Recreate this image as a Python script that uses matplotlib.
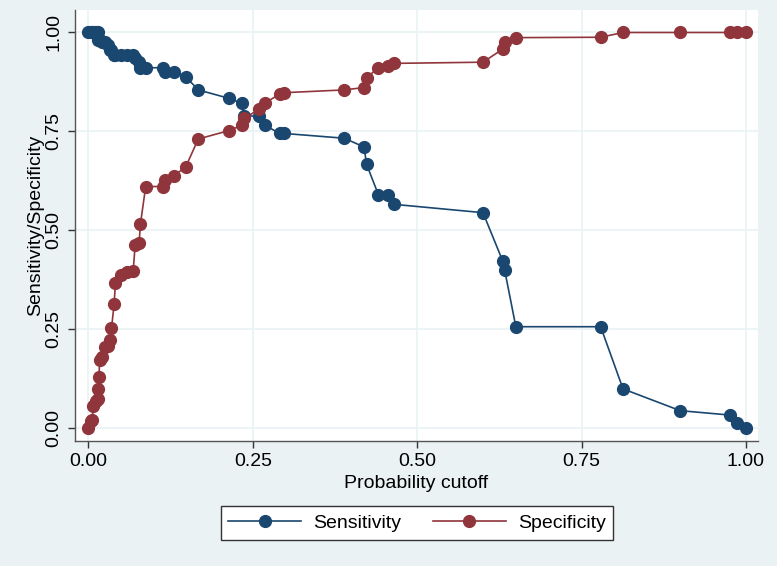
import matplotlib
matplotlib.use("Agg")
import matplotlib.pyplot as plt
from matplotlib.lines import Line2D

plt.rcParams['font.family'] = ['Liberation Sans', 'DejaVu Sans']

cutoff = [0.000, 0.004, 0.006, 0.007, 0.011, 0.014, 0.015, 0.016, 0.017, 0.021,
          0.025, 0.030, 0.033, 0.035, 0.039, 0.041, 0.050, 0.058, 0.068, 0.071,
          0.077, 0.079, 0.087, 0.114, 0.116, 0.130, 0.148, 0.167, 0.213, 0.234,
          0.236, 0.260, 0.268, 0.291, 0.298, 0.389, 0.419, 0.423, 0.441, 0.456,
          0.465, 0.600, 0.630, 0.633, 0.650, 0.779, 0.813, 0.900, 0.975, 0.987,
          1.000]
sensitivity = [1.000, 1.000, 1.000, 1.000, 1.000, 1.000, 0.981, 0.981, 0.981, 0.977,
               0.977, 0.968, 0.956, 0.956, 0.944, 0.944, 0.944, 0.944, 0.944, 0.935,
               0.926, 0.911, 0.911, 0.911, 0.901, 0.900, 0.888, 0.855, 0.834, 0.821,
               0.789, 0.789, 0.766, 0.745, 0.745, 0.733, 0.711, 0.667, 0.590, 0.590,
               0.566, 0.545, 0.423, 0.400, 0.257, 0.257, 0.100, 0.045, 0.034, 0.013,
               0.000]
specificity = [0.000, 0.020, 0.022, 0.057, 0.070, 0.074, 0.099, 0.131, 0.173, 0.180,
               0.207, 0.208, 0.223, 0.253, 0.314, 0.368, 0.388, 0.396, 0.398, 0.463,
               0.469, 0.516, 0.611, 0.611, 0.628, 0.638, 0.661, 0.731, 0.752, 0.766,
               0.783, 0.806, 0.821, 0.845, 0.848, 0.855, 0.861, 0.886, 0.911, 0.916,
               0.922, 0.925, 0.958, 0.977, 0.987, 0.988, 1.000, 1.000, 1.000, 1.000,
               1.000]
ticks = [0.00, 0.25, 0.50, 0.75, 1.00]
tick_labels = ["0.00", "0.25", "0.50", "0.75", "1.00"]

navy = "#1a476f"
maroon = "#90353b"
bg = "#eaf2f3"

fig = plt.figure(figsize=(7.77, 5.66), dpi=100)
fig.patch.set_facecolor(bg)
ax = fig.add_axes([75/777, 1-441/566, (758-75)/777, (441-10)/566])
ax.set_facecolor("white")

ax.plot(cutoff, sensitivity, color=navy, lw=1.2, marker="o", ms=8.5,
        mfc=navy, mec=navy, zorder=3, label="Sensitivity")
ax.plot(cutoff, specificity, color=maroon, lw=1.2, marker="o", ms=8.5,
        mfc=maroon, mec=maroon, zorder=3, label="Specificity")

ax.set_xlim(-0.0205, 1.0183)
ax.set_ylim(-0.0316, 1.0568)
ax.set_xticks(ticks)
ax.set_xticklabels(tick_labels)
ax.set_yticks(ticks)
ax.set_yticklabels(tick_labels, rotation=90, va="center")
ax.grid(True, color=bg, lw=1.2, zorder=0)
ax.set_axisbelow(True)
for s in ["top", "right"]:
    ax.spines[s].set_visible(False)
for s in ["left", "bottom"]:
    ax.spines[s].set_color("#555555")
    ax.spines[s].set_linewidth(1.0)
ax.tick_params(axis="both", direction="out", length=5, width=1.0,
               color="#333333", labelsize=14, labelcolor="black", pad=4)

ax.set_xlabel("Probability cutoff", fontsize=14, labelpad=3)
ax.set_ylabel("Sensitivity/Specificity", fontsize=14, labelpad=1)

handles = [Line2D([0], [0], color=navy, lw=1.2, marker="o", ms=8.5),
           Line2D([0], [0], color=maroon, lw=1.2, marker="o", ms=8.5)]
leg = fig.legend(handles, ["Sensitivity", "Specificity"], loc="center",
                 bbox_to_anchor=(417/777, 1-523/566), ncol=2, fontsize=14,
                 frameon=True, fancybox=False, handlelength=3.76,
                 columnspacing=1.6, handletextpad=0.62, borderpad=0.4,
                 borderaxespad=0)
leg.get_frame().set_edgecolor("#333333")
leg.get_frame().set_linewidth(1.0)
leg.get_frame().set_facecolor("white")
leg.get_frame().set_alpha(1)

fig.savefig("out.png", dpi=100, facecolor=bg)
